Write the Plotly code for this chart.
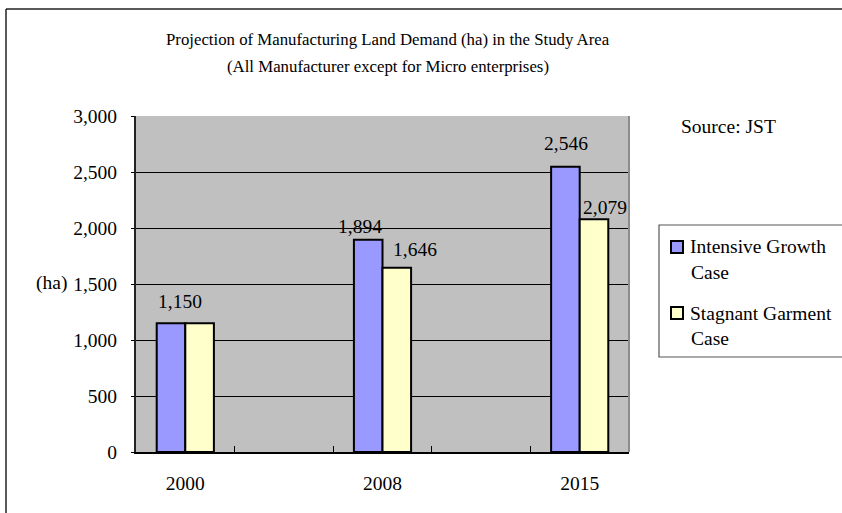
import plotly.graph_objects as go

# Chart data
years = ["2000", "2008", "2015"]
intensive_growth = [1150, 1894, 2546]
stagnant_garment = [1150, 1646, 2079]

# Value label placement (pixel shifts relative to category centre / bar top)
intensive_label_dx = [-5, -23, -14]
intensive_label_dy = [22, 13, 23]
stagnant_label_dx = [None, 32, 25]   # 2000 shares one label with the blue bar
stagnant_label_dy = [None, 18, 12]

W, H = 842, 513
L, R, T, B = 136, 629, 116, 452          # plot area in pixels
FONT = "Liberation Serif, Times New Roman, serif"
BLUE, CREAM, PLOT_BG = "#9999FF", "#FFFFCC", "#C0C0C0"


def px(x):
    return (x - L) / (R - L)


def py(y):
    return (B - y) / (B - T)


xs = list(range(len(years)))

fig = go.Figure()
fig.add_trace(go.Bar(x=xs, y=intensive_growth, name="Intensive Growth Case",
                     marker=dict(color=BLUE, line=dict(color="black", width=2)),
                     showlegend=False, hoverinfo="y"))
fig.add_trace(go.Bar(x=xs, y=stagnant_garment, name="Stagnant Garment Case",
                     marker=dict(color=CREAM, line=dict(color="black", width=2)),
                     showlegend=False, hoverinfo="y"))

annotations = []
for i, v in enumerate(intensive_growth):
    annotations.append(dict(x=i, y=v, xref="x", yref="y", text=f"{v:,}",
                            showarrow=False, xanchor="center", yanchor="middle",
                            xshift=intensive_label_dx[i], yshift=intensive_label_dy[i],
                            font=dict(family=FONT, size=19.5, color="black")))
for i, v in enumerate(stagnant_garment):
    if stagnant_label_dx[i] is None:
        continue
    annotations.append(dict(x=i, y=v, xref="x", yref="y", text=f"{v:,}",
                            showarrow=False, xanchor="center", yanchor="middle",
                            xshift=stagnant_label_dx[i], yshift=stagnant_label_dy[i],
                            font=dict(family=FONT, size=19.5, color="black")))

# Title lines
for text, yy in [("Projection of Manufacturing Land Demand (ha) in the Study Area", 40),
                 ("(All Manufacturer except for Micro enterprises)", 66)]:
    annotations.append(dict(x=px(388), y=py(yy), xref="paper", yref="paper", text=text,
                            showarrow=False, xanchor="center", yanchor="middle",
                            font=dict(family=FONT, size=16.8, color="black")))

# Axis unit and source note
annotations.append(dict(x=px(51), y=py(283), xref="paper", yref="paper", text="(ha)",
                        showarrow=False, xanchor="center", yanchor="middle",
                        font=dict(family=FONT, size=19.5, color="black")))
annotations.append(dict(x=px(679), y=py(126), xref="paper", yref="paper", text="Source: JST",
                        showarrow=False, xanchor="left", yanchor="middle",
                        font=dict(family=FONT, size=19.5, color="black")))

# Hand-drawn legend entries
legend_items = [("Intensive Growth", "Case", BLUE, 247),
                ("Stagnant Garment", "Case", CREAM, 313)]
shapes = []
for line1, line2, color, yy in legend_items:
    shapes.append(dict(type="rect", xref="paper", yref="paper",
                       x0=px(671), x1=px(683), y0=py(yy - 6), y1=py(yy + 6),
                       fillcolor=color, line=dict(color="black", width=2)))
    annotations.append(dict(x=px(688), y=py(yy), xref="paper", yref="paper", text=line1,
                            showarrow=False, xanchor="left", yanchor="middle",
                            font=dict(family=FONT, size=19.5, color="black")))
    annotations.append(dict(x=px(689), y=py(yy + 25), xref="paper", yref="paper", text=line2,
                            showarrow=False, xanchor="left", yanchor="middle",
                            font=dict(family=FONT, size=19.5, color="black")))

# Legend frame (runs past the right edge)
shapes.append(dict(type="rect", xref="paper", yref="paper",
                   x0=px(659), x1=px(900), y0=py(225), y1=py(357),
                   line=dict(color="#555555", width=1.2), fillcolor="rgba(0,0,0,0)",
                   layer="below"))
# Outer chart frame (top and left edges visible)
shapes.append(dict(type="line", xref="paper", yref="paper",
                   x0=px(6), x1=px(900), y0=py(9), y1=py(9),
                   line=dict(color="#222222", width=1.5)))
shapes.append(dict(type="line", xref="paper", yref="paper",
                   x0=px(6), x1=px(6), y0=py(9), y1=py(560),
                   line=dict(color="#222222", width=1.5)))
# Right edge of plot area
shapes.append(dict(type="line", xref="paper", yref="paper",
                   x0=1, x1=1, y0=0, y1=1,
                   line=dict(color="#8C8C8C", width=2)))

fig.update_layout(
    width=W, height=H,
    margin=dict(l=L, r=W - R, t=T, b=H - B, pad=0),
    paper_bgcolor="white",
    plot_bgcolor=PLOT_BG,
    barmode="group",
    bargap=0.71,
    bargroupgap=0,
    font=dict(family=FONT, size=19.5, color="black"),
    annotations=annotations,
    shapes=shapes,
)
fig.update_xaxes(
    range=[-0.25, 2.25],
    tickmode="array", tickvals=xs, ticktext=years,
    ticks="", ticklabelstandoff=13,
    showgrid=False, zeroline=False,
    showline=True, linecolor="black", linewidth=2,
    minor=dict(tickmode="array", tickvals=[0.25, 0.75, 1.25, 1.75],
               ticks="inside", ticklen=6, tickcolor="black", tickwidth=1.2,
               showgrid=False),
    tickfont=dict(family=FONT, size=19.5, color="black"),
    fixedrange=True,
)
fig.update_yaxes(
    range=[0, 3000], dtick=500, tick0=0,
    tickformat=",d",
    ticks="outside", ticklen=3, tickcolor="black", ticklabelstandoff=10,
    showgrid=True, gridcolor="black", gridwidth=1,
    zeroline=False,
    showline=True, linecolor="#222222", linewidth=2,
    tickfont=dict(family=FONT, size=19.5, color="black"),
    fixedrange=True,
)

fig.write_html("out.html")
